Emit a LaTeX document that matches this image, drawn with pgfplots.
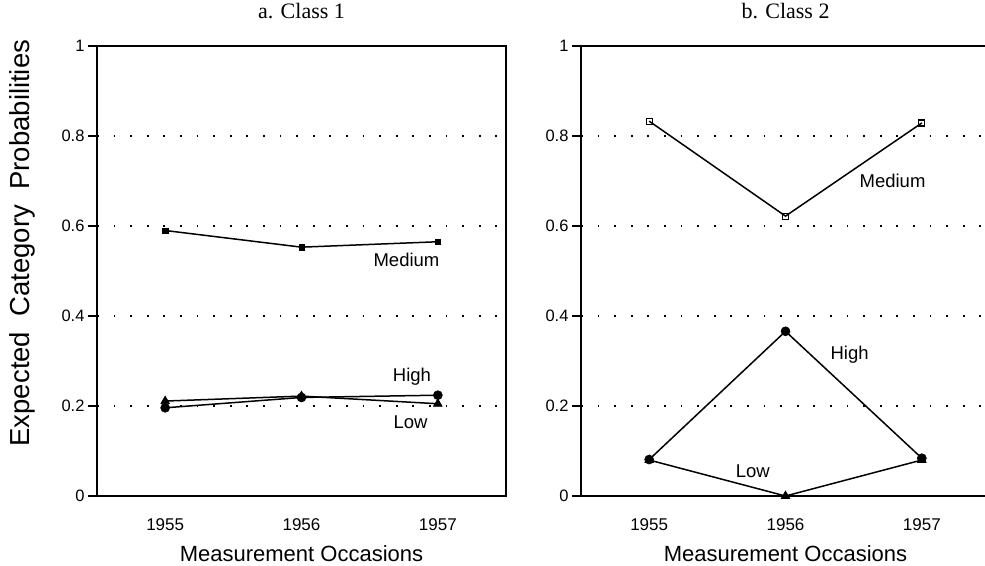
\documentclass[border=0pt]{standalone}
\usepackage{pgfplots}
\pgfplotsset{compat=1.18}
\usepackage{fontspec}
\setmainfont{Liberation Sans}
\newfontfamily\titlefont{Liberation Serif}

\pgfplotsset{
  panel/.style={
    width=409pt, height=450pt, scale only axis, clip=false,
    xmin=1954.5, xmax=1957.5, ymin=0, ymax=1,
    xtick={1955,1956,1957}, ytick={0,0.2,0.4,0.6,0.8,1},
    /pgf/number format/assume math mode=true,
    /pgf/number format/1000 sep={},
    xticklabel style={font=\fontsize{17}{20}\selectfont, yshift=-10pt},
    yticklabel style={font=\fontsize{16.5}{20}\selectfont},
    major x tick style={draw=none},
    tick align=outside, ytick pos=left, xtick pos=bottom, major tick length=9pt,
    tick style={black, line width=1.2pt},
    ymajorgrids,
    grid style={black, line width=1.7pt, dash pattern=on 1.7pt off 14.9pt},
    axis line style={line width=1.6pt},
    every axis plot/.append style={black, line width=1.5pt},
    title style={font=\titlefont\fontsize{22}{26}\selectfont, at={(0.5,1)}, anchor=base, yshift=22pt},
    xlabel style={font=\fontsize{22}{26}\selectfont, at={(axis description cs:0.5,-0.127)}, anchor=center},
    xlabel={Measurement Occasions},
  },
}
\tikzset{lab/.style={font=\fontsize{18.5}{22}\selectfont, anchor=center}}

\begin{document}
\begin{tikzpicture}
\begin{axis}[panel, at={(97pt,-496pt)}, anchor=south west,
  title={a. Class 1},
  ylabel={Expected\ \ Category\ \ Probabilities},
  ylabel style={font=\fontsize{27.5}{32}\selectfont, at={(axis description cs:-0.183,0.562)}, anchor=center},
]
\addplot[mark=square*, mark size=2.7pt, mark options={solid,line width=0.6pt}] coordinates {(1955,0.590) (1956,0.553) (1957,0.565)};
\addplot[mark=*, mark size=4.5pt, mark options={solid,line width=0.6pt}] coordinates {(1955,0.196) (1956,0.219) (1957,0.224)};
\addplot[mark=triangle*, mark size=5pt, mark options={solid,line width=0.6pt}] coordinates {(1955,0.211) (1956,0.222) (1957,0.205)};
\node[lab] at (axis cs:1956.77,0.524) {Medium};
\node[lab] at (axis cs:1956.81,0.264) {High};
\node[lab] at (axis cs:1956.80,0.165) {Low};
\end{axis}

\begin{axis}[panel, at={(581pt,-496pt)}, anchor=south west,
  title={b. Class 2},
]
\addplot[mark=square, mark size=3pt, mark options={solid,fill=white,line width=1.2pt}] coordinates {(1955,0.833) (1956,0.622) (1957,0.829)};
\addplot[mark=*, mark size=4.5pt, mark options={solid,line width=0.6pt}] coordinates {(1955,0.081) (1956,0.366) (1957,0.084)};
\addplot[mark=triangle*, mark size=5pt, mark options={solid,line width=0.6pt}] coordinates {(1955,0.080) (1956,0.0) (1957,0.080)};
\node[lab] at (axis cs:1956.785,0.70) {Medium};
\node[lab] at (axis cs:1956.47,0.315) {High};
\node[lab] at (axis cs:1955.76,0.054) {Low};
\end{axis}
\pgfresetboundingbox
\useasboundingbox (0,0) rectangle (985pt,-565pt);
\end{tikzpicture}
\end{document}
